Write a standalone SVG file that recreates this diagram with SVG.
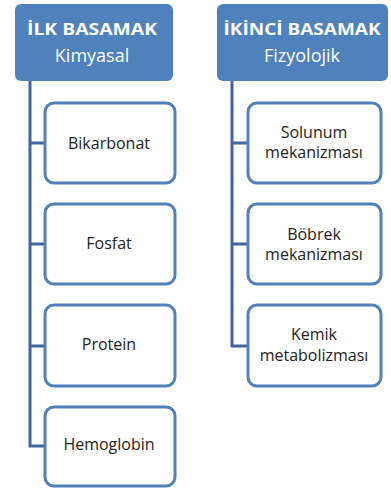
<svg xmlns="http://www.w3.org/2000/svg" width="391" height="490" viewBox="0 0 391 490">
<style>
.hdr{fill:#4f81bd;}
.box{fill:#fff;stroke:#4f81bd;stroke-width:3;}
.conn{fill:none;stroke:#40679c;stroke-width:3;}
.ht{font-family:"Open Sans","Liberation Sans",sans-serif;fill:#fff;text-anchor:middle;}
.hb{font-weight:bold;font-size:16px;}
.hs{font-size:18px;}
.ct{font-family:"Open Sans","Liberation Sans",sans-serif;font-size:16px;fill:#222;text-anchor:middle;}
</style>
<rect width="391" height="490" fill="#fff"/>
<g id="connectors">
<path class="conn" d="M30 81 V446 H45 M30 143 H45 M30 244 H45 M30 346 H45"/>
<path class="conn" d="M232 81 V346 H248 M232 143 H248 M232 244 H248"/>
</g>
<g id="hdr-ilk">
<rect class="hdr" x="15" y="4" width="158" height="77" rx="6"/>
<text class="ht hb" x="92" y="35" textLength="130" lengthAdjust="spacingAndGlyphs">İLK BASAMAK</text>
<text class="ht hs" x="92" y="62">Kimyasal</text>
</g>
<g id="hdr-ikinci">
<rect class="hdr" x="217" y="4" width="171" height="77" rx="6"/>
<text class="ht hb" x="302" y="35" textLength="157" lengthAdjust="spacingAndGlyphs">İKİNCİ BASAMAK</text>
<text class="ht hs" x="302" y="62">Fizyolojik</text>
</g>
<g id="bikarbonat">
<rect class="box" x="45" y="103" width="130" height="80" rx="9"/>
<text class="ct" x="109" y="149">Bikarbonat</text>
</g>
<g id="fosfat">
<rect class="box" x="45" y="204" width="130" height="80" rx="9"/>
<text class="ct" x="109" y="249">Fosfat</text>
</g>
<g id="protein">
<rect class="box" x="45" y="305" width="130" height="81" rx="9"/>
<text class="ct" x="109" y="350">Protein</text>
</g>
<g id="hemoglobin">
<rect class="box" x="45" y="407" width="130" height="79" rx="9"/>
<text class="ct" x="109" y="450">Hemoglobin</text>
</g>
<g id="solunum">
<rect class="box" x="248" y="103" width="133" height="80" rx="9"/>
<text class="ct" x="314" y="138">Solunum</text>
<text class="ct" x="314" y="158">mekanizması</text>
</g>
<g id="bobrek">
<rect class="box" x="248" y="204" width="133" height="80" rx="9"/>
<text class="ct" x="314" y="240">Böbrek</text>
<text class="ct" x="314" y="260">mekanizması</text>
</g>
<g id="kemik">
<rect class="box" x="248" y="305" width="133" height="81" rx="9"/>
<text class="ct" x="314" y="340">Kemik</text>
<text class="ct" x="314" y="361">metabolizması</text>
</g>
</svg>
